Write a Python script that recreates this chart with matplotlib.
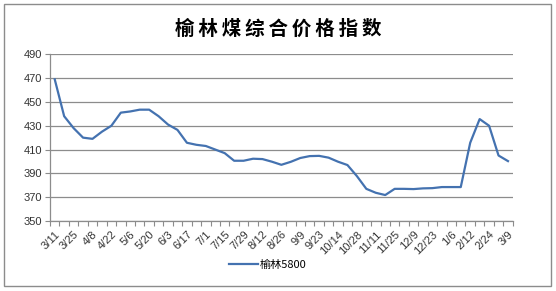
import matplotlib
matplotlib.use('Agg')
import matplotlib.pyplot as plt
from matplotlib.patches import Rectangle
from matplotlib.ticker import FixedLocator

plt.rcParams['font.family'] = ['Liberation Sans', 'Noto Sans CJK SC', 'DejaVu Sans']

# weekly dates (every second one is labelled on the axis)
dates = ['3/11', '3/18', '3/25', '4/1', '4/8', '4/15', '4/22', '4/29', '5/6', '5/13',
         '5/20', '5/27', '6/3', '6/10', '6/17', '6/24', '7/1', '7/8', '7/15', '7/22',
         '7/29', '8/5', '8/12', '8/19', '8/26', '9/2', '9/9', '9/16', '9/23', '9/30',
         '10/14', '10/21', '10/28', '11/4', '11/11', '11/18', '11/25', '12/2', '12/9', '12/16',
         '12/23', '12/30', '1/6', '1/13', '2/12', '2/17', '2/24', '3/2', '3/9']
yulin5800 = [469, 438, 428, 420, 419, 425, 430, 441, 442, 443.5,
             443.5, 438, 431, 426.5, 415.7, 414, 413, 410, 407, 400.6,
             400.6, 402.3, 402, 399.8, 397.2, 399.7, 402.9, 404.5, 404.7, 403.2,
             399.8, 397, 387.7, 377, 373.7, 371.8, 377, 377, 376.8, 377.4,
             377.6, 378.5, 378.5, 378.5, 415.7, 435.6, 430, 405, 400.3]
series_name = '榆林5800'
title = '榆林煤综合价格指数'
yticks = [350, 370, 390, 410, 430, 450, 470, 490]

fig = plt.figure(figsize=(5.56, 2.91), dpi=100)
ax = fig.add_axes([50 / 556, 1 - 221 / 291, 462.7 / 556, (221 - 54.3) / 291])

x = list(range(len(dates)))
line, = ax.plot(x, yulin5800, color='#4472b0', linewidth=1.6, label=series_name)

ax.set_xlim(-0.5, len(dates) - 0.5)
ax.set_ylim(350, 490)
ax.set_yticks(yticks)
ax.set_yticklabels([str(v) for v in yticks], fontsize=8, color='#333333')
ax.yaxis.grid(True, color='#8c8c8c', linewidth=0.9)
ax.set_axisbelow(True)

# labels on every second category, tick marks between categories
ax.xaxis.set_major_locator(FixedLocator(x[::2]))
ax.set_xticklabels(dates[::2], rotation=45, ha='right', rotation_mode='anchor',
                   fontsize=8, color='#333333')
ax.tick_params(axis='x', which='major', length=0, pad=6)
ax.xaxis.set_minor_locator(FixedLocator([i - 0.5 for i in range(len(dates) + 1)]))
ax.tick_params(axis='x', which='minor', length=3.5, color='#8c8c8c', width=0.8)
ax.tick_params(axis='y', length=3.5, color='#8c8c8c', width=0.8, pad=2)

for s in ['top', 'right']:
    ax.spines[s].set_visible(False)
for s in ['left', 'bottom']:
    ax.spines[s].set_color('#8c8c8c')
    ax.spines[s].set_linewidth(0.9)

fig.text(0.5, 1 - 29 / 291, '\u2009'.join(title), ha='center', va='center', fontsize=14,
         fontweight='bold', family=['Noto Sans CJK SC', 'DejaVu Sans'])

fig.legend(handles=[line], loc='center', bbox_to_anchor=(268 / 556, 1 - 265 / 291),
           frameon=False, handlelength=2.6, handletextpad=0.2,
           prop={'family': ['Noto Sans CJK SC', 'DejaVu Sans'], 'size': 8})

# outer chart border
fig.patches.append(Rectangle((4 / 556, 1 - 286 / 291), 547 / 556, 282 / 291,
                             transform=fig.transFigure, fill=False,
                             edgecolor='#8c8c8c', linewidth=1.0))

fig.savefig('out.png', dpi=100)
